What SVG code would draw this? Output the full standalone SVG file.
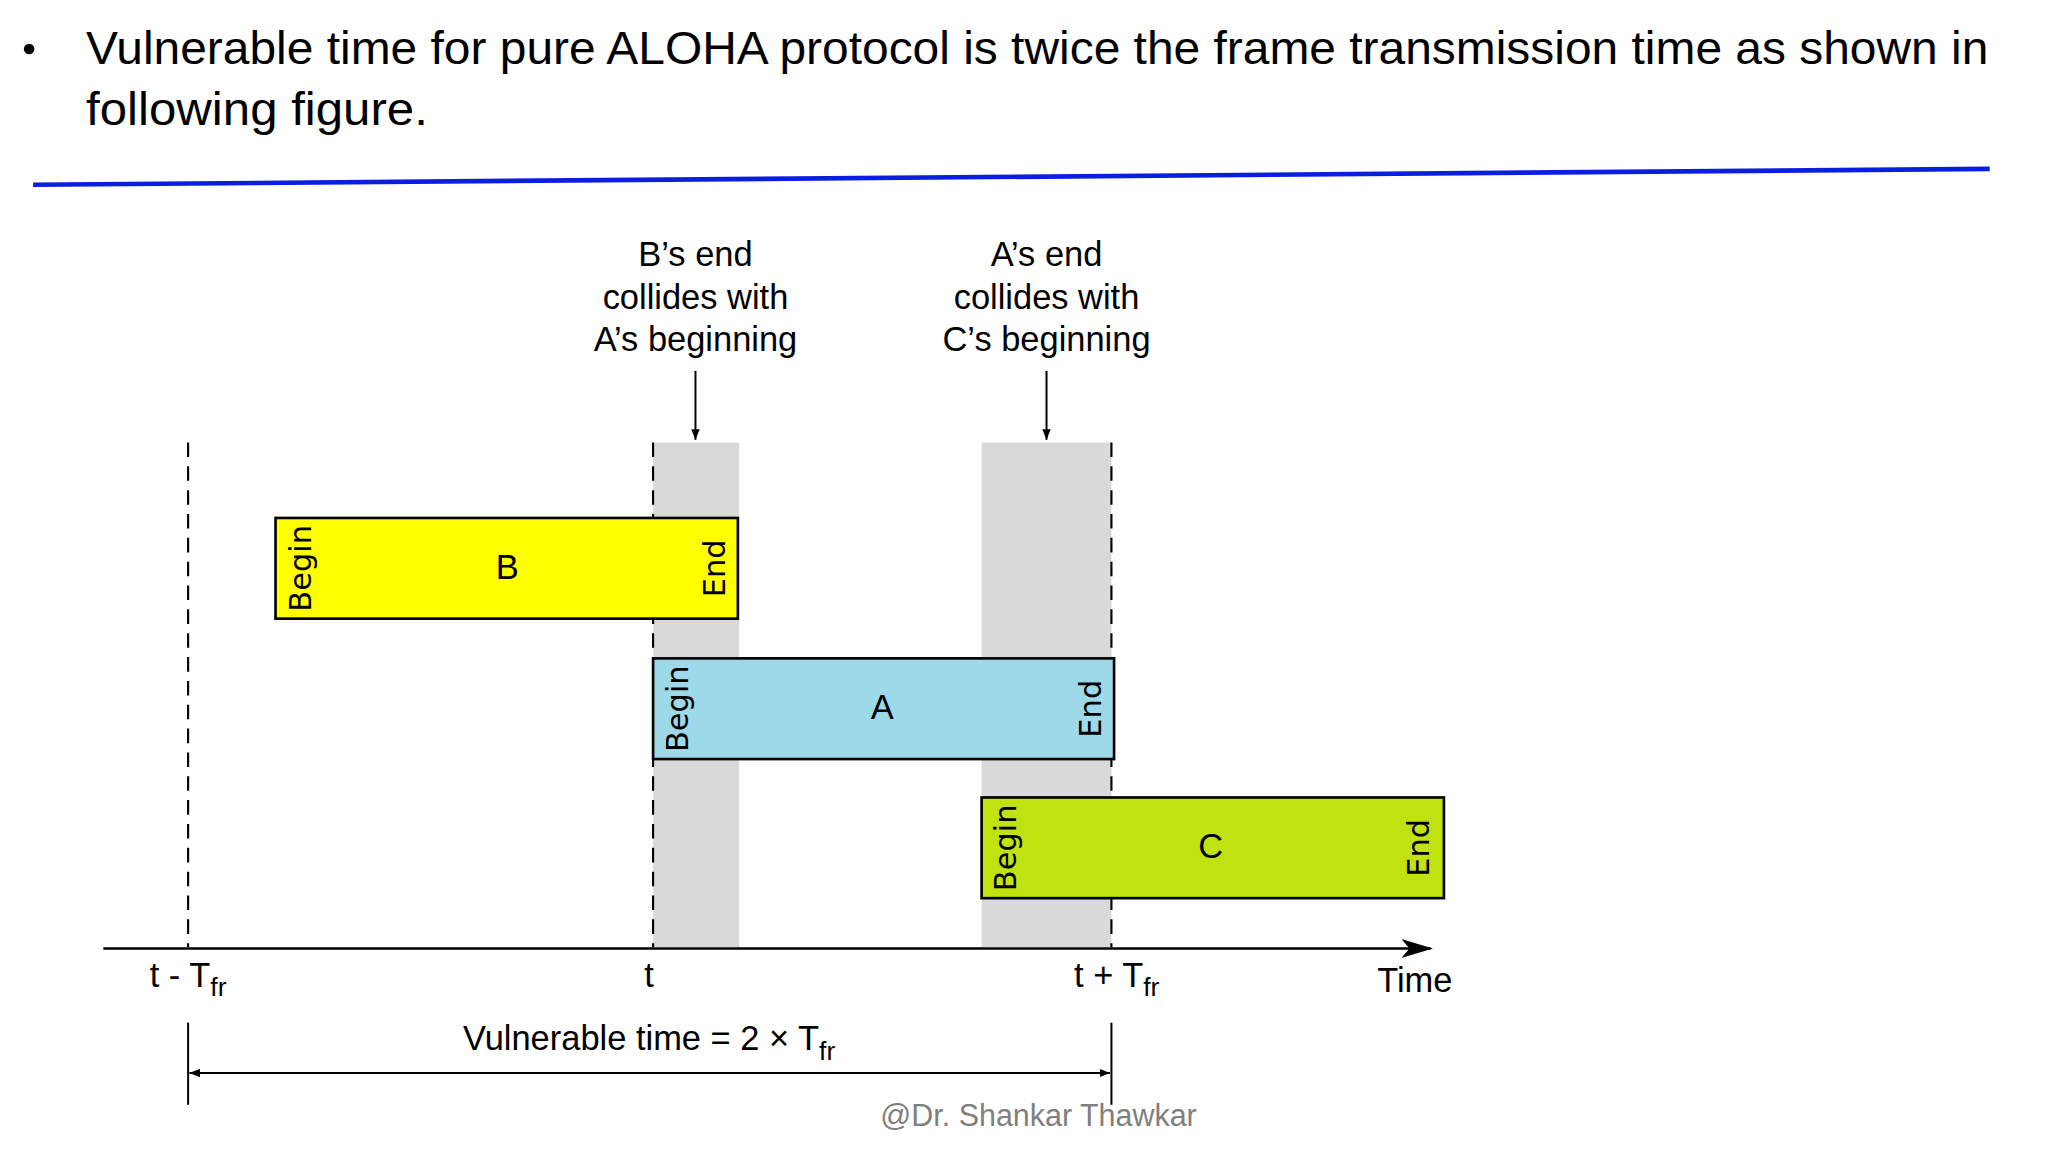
<svg xmlns="http://www.w3.org/2000/svg" width="2048" height="1152" viewBox="0 0 2048 1152">
<defs>
<style>
text{font-family:"Liberation Sans","Open Sans",sans-serif;fill:#000}
.lbl{font-size:26px;text-anchor:middle}
.rot{font-size:23px;text-anchor:middle;font-family:"DejaVu Sans",sans-serif}
.box{stroke:#000;stroke-width:2}
.dash{stroke:#000;stroke-width:1.6;stroke-dasharray:11,7;fill:none}
.ln{stroke:#000;stroke-width:1.5;fill:none}
</style>
<marker id="ah" viewBox="0 0 10 10" refX="10" refY="5" markerWidth="8" markerHeight="8" markerUnits="userSpaceOnUse" orient="auto-start-reverse"><path d="M0,1 L10,5 L0,9 z" fill="#000"/></marker>
<marker id="big" viewBox="0 0 24 14" refX="22" refY="7" markerWidth="24" markerHeight="14" markerUnits="userSpaceOnUse" orient="auto"><path d="M0,0 L24,7 L0,14 L6,7 z" fill="#000"/></marker>
</defs>
<rect width="2048" height="1152" fill="#fff"/>
<g transform="scale(1.32471)">
<g id="title">
<circle cx="22" cy="37" r="4" fill="#000"/>
<text x="65" y="48" font-size="35" textLength="1436" lengthAdjust="spacingAndGlyphs">Vulnerable time for pure ALOHA protocol is twice the frame transmission time as shown in</text>
<text x="65" y="94" font-size="35" textLength="258" lengthAdjust="spacingAndGlyphs">following figure.</text>
<line x1="25" y1="139.5" x2="1502" y2="127.5" stroke="#0a1ee0" stroke-width="3.5"/>
</g>
<g id="bands">
<rect x="493" y="334" width="65" height="381" fill="#d9d9d9"/>
<rect x="741" y="334" width="98" height="381" fill="#d9d9d9"/>
</g>
<g id="connectors">
<line class="dash" x1="142" y1="334" x2="142" y2="715"/>
<line class="dash" x1="493" y1="334" x2="493" y2="715"/>
<line class="dash" x1="839" y1="334" x2="839" y2="715"/>
<line class="ln" x1="525" y1="280" x2="525" y2="332" marker-end="url(#ah)"/>
<line class="ln" x1="790" y1="280" x2="790" y2="332" marker-end="url(#ah)"/>
<line x1="78" y1="716" x2="1080" y2="716" stroke="#000" stroke-width="2" marker-end="url(#big)"/>
<line class="ln" x1="142" y1="772" x2="142" y2="834"/>
<line class="ln" x1="839" y1="772" x2="839" y2="834"/>
<line class="ln" x1="143" y1="810" x2="838" y2="810" marker-start="url(#ah)" marker-end="url(#ah)"/>
</g>
<g id="labelB"><text class="lbl" x="525" y="201">B’s end</text><text class="lbl" x="525" y="233">collides with</text><text class="lbl" x="525" y="265">A’s beginning</text></g>
<g id="labelA"><text class="lbl" x="790" y="201">A’s end</text><text class="lbl" x="790" y="233">collides with</text><text class="lbl" x="790" y="265">C’s beginning</text></g>
<g id="frameB">
<rect class="box" x="208" y="391" width="349" height="76" fill="#ffff00"/>
<text class="rot" transform="translate(235,429) rotate(-90)">Begin</text>
<text class="rot" transform="translate(547,429) rotate(-90)">End</text>
<text class="lbl" x="383" y="437">B</text>
</g>
<g id="frameA">
<rect class="box" x="493" y="497" width="348" height="76" fill="#9dd9e8"/>
<text class="rot" transform="translate(519,535) rotate(-90)">Begin</text>
<text class="rot" transform="translate(831,535) rotate(-90)">End</text>
<text class="lbl" x="666" y="543">A</text>
</g>
<g id="frameC">
<rect class="box" x="741" y="602" width="349" height="76" fill="#c0e210"/>
<text class="rot" transform="translate(767,640) rotate(-90)">Begin</text>
<text class="rot" transform="translate(1079,640) rotate(-90)">End</text>
<text class="lbl" x="914" y="648">C</text>
</g>
<g id="axislabels">
<text class="lbl" x="142" y="745">t - T<tspan font-size="20" dy="7">fr</tspan></text>
<text class="lbl" x="490" y="745">t</text>
<text class="lbl" x="843" y="745">t + T<tspan font-size="20" dy="7">fr</tspan></text>
<text class="lbl" x="1068" y="749">Time</text>
<text class="lbl" x="490" y="793">Vulnerable time = 2 × T<tspan font-size="20" dy="7">fr</tspan></text>
<text x="784" y="850" font-size="23" text-anchor="middle" style="fill:#7f7f7f">@Dr. Shankar Thawkar</text>
</g>
</g>
</svg>
